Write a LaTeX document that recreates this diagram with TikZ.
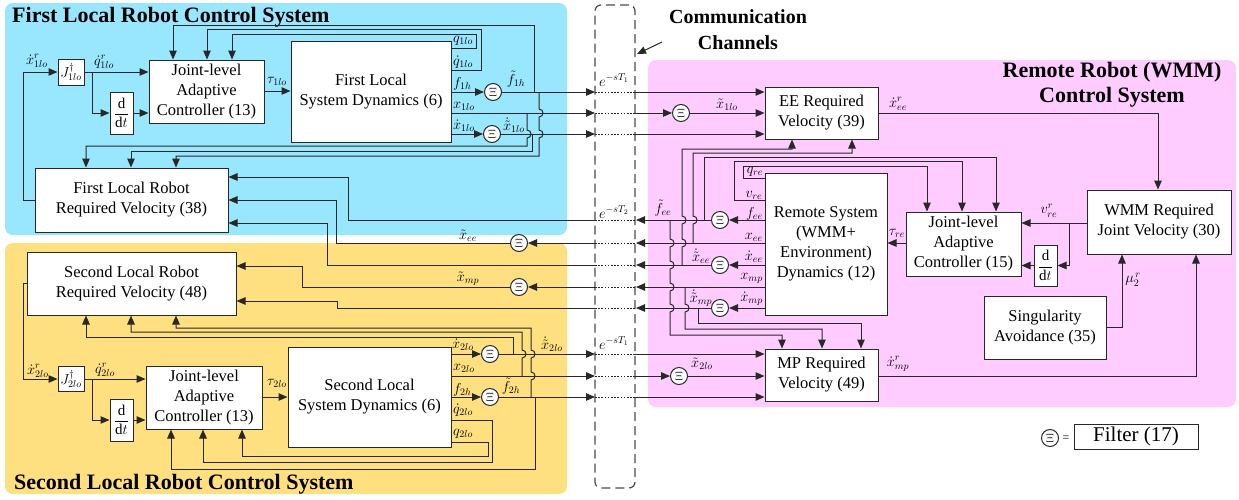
\documentclass[tikz,border=0pt]{standalone}
\usepackage{fontspec}
\setmainfont{Liberation Serif}
\usetikzlibrary{arrows.meta}
\definecolor{bgblue}{RGB}{153,230,255}
\definecolor{bgyel}{RGB}{255,224,128}
\definecolor{bgpink}{RGB}{255,204,255}
\definecolor{ink}{RGB}{40,40,40}
\newcommand{\hopd}[2]{-- (#1,#2-4) .. controls (#1+5.3,#2-4) and (#1+5.3,#2+4) .. (#1,#2+4)}
\newcommand{\hopu}[2]{-- (#1,#2+4) .. controls (#1+5.3,#2+4) and (#1+5.3,#2-4) .. (#1,#2-4)}
\begin{document}
\begin{tikzpicture}[x=1pt,y=-1pt,
 blk/.style={draw=ink, fill=white, line width=1pt, inner sep=1pt, align=center, font=\fontsize{16.5}{20}\selectfont},
 filt/.style={circle, draw=ink, fill=white, line width=1pt, minimum size=17pt, inner sep=0pt, font=\fontsize{12}{12}\selectfont},
 ln/.style={draw=ink, line width=1pt},
 arr/.style={-{Triangle[length=9pt,width=7.5pt]}},
 dots/.style={draw=ink, line width=1pt, dash pattern=on 1.6pt off 1.6pt},
 lab/.style={inner sep=0pt, font=\fontsize{14}{14}\selectfont},
 ttl/.style={inner sep=0pt, font=\fontsize{22}{25}\bfseries\selectfont},
]
\useasboundingbox (0,0) rectangle (1239,499);
% backgrounds
\fill[bgblue, rounded corners=8pt] (5,3) rectangle (567,235);
\fill[bgyel, rounded corners=8pt] (5,243) rectangle (567,494);
\fill[bgpink, rounded corners=8pt] (648,60) rectangle (1236,407);
% titles
\node[ttl, anchor=west] (t1) at (12,17) {First Local Robot Control System};
\node[ttl, anchor=west] (t2) at (14,484) {Second Local Robot Control System};
\node[ttl, align=center] (t3) at (1112,84.5) {Remote Robot (WMM)\\Control System};
\node[ttl, align=center, font=\fontsize{20}{26}\bfseries\selectfont] (comm) at (738,30) {Communication\\Channels};
% channel
\node[draw=black!70, line width=1.2pt, dash pattern=on 9pt off 5pt, rounded corners=6pt, minimum width=40pt, minimum height=483pt, inner sep=0pt] (chan) at (615,246.5) {};
\coordinate (ca) at (662,42);
\draw[ln,arr] (ca) -- (637,54);
% blocks first system
\node[blk, minimum width=26pt, minimum height=26pt, font=\fontsize{14}{14}\selectfont, inner sep=0pt] (j1) at (71,72) {$J^{\dagger}_{1lo}$};
\node[blk, minimum width=115pt, minimum height=63pt] (ctrl1) at (206.5,91.5) {Joint-level\\Adaptive\\Controller (13)};
\node[blk, minimum width=23pt, minimum height=42pt, font=\fontsize{15}{15}\selectfont, inner sep=0pt] (dd1) at (121.5,113) {$\displaystyle\frac{\mathrm{d}}{\mathrm{d}t}$};
\node[blk, minimum width=160pt, minimum height=101pt] (dyn1) at (371,91.5) {First Local\\System Dynamics (6)};
\node[blk, minimum width=193pt, minimum height=64pt] (rv1) at (131.5,200) {First Local Robot\\Required Velocity (38)};
% blocks second system
\node[blk, minimum width=26pt, minimum height=25pt, font=\fontsize{14}{14}\selectfont, inner sep=0pt] (j2) at (71,379) {$J^{\dagger}_{2lo}$};
\node[blk, minimum width=116pt, minimum height=63pt] (ctrl2) at (204,397.5) {Joint-level\\Adaptive\\Controller (13)};
\node[blk, minimum width=23pt, minimum height=42pt, font=\fontsize{15}{15}\selectfont, inner sep=0pt] (dd2) at (121.5,420) {$\displaystyle\frac{\mathrm{d}}{\mathrm{d}t}$};
\node[blk, minimum width=163pt, minimum height=100pt] (dyn2) at (369.5,397) {Second Local\\System Dynamics (6)};
\node[blk, minimum width=209pt, minimum height=63pt] (rv2) at (131.5,283.5) {Second Local Robot\\Required Velocity (48)};
% remote blocks
\node[blk, minimum width=113pt, minimum height=52pt] (ee) at (821.5,113) {EE Required\\Velocity (39)};
\node[blk, minimum width=122pt, minimum height=142pt] (rem) at (826,244) {Remote System\\(WMM+\\Environment)\\Dynamics (12)};
\node[blk, minimum width=115pt, minimum height=64pt] (ctrl3) at (963.5,244) {Joint-level\\Adaptive\\Controller (15)};
\node[blk, minimum width=23pt, minimum height=41pt, font=\fontsize{15}{15}\selectfont, inner sep=0pt] (dd3) at (1045.5,265.5) {$\displaystyle\frac{\mathrm{d}}{\mathrm{d}t}$};
\node[blk, minimum width=144pt, minimum height=64pt] (wmm) at (1159,222) {WMM Required\\Joint Velocity (30)};
\node[blk, minimum width=122pt, minimum height=63pt] (sing) at (1045,327.5) {Singularity\\Avoidance (35)};
\node[blk, minimum width=113pt, minimum height=52pt] (mp) at (821.5,375) {MP Required\\Velocity (49)};
% filters
\node[filt] (fa) at (493,92) {$\Xi$};
\node[filt] (fb) at (492,134) {$\Xi$};
\node[filt] (fc) at (681,113) {$\Xi$};
\node[filt] (fd) at (720,220) {$\Xi$};
\node[filt] (fe) at (720,265) {$\Xi$};
\node[filt] (ff) at (720,308) {$\Xi$};
\node[filt] (fg) at (519,243) {$\Xi$};
\node[filt] (fh) at (519,287) {$\Xi$};
\node[filt] (fi) at (490,354) {$\Xi$};
\node[filt] (fj) at (490,397) {$\Xi$};
\node[filt] (fk) at (679,376) {$\Xi$};
% legend
\node[filt] (fl) at (1050,438) {$\Xi$};
\node[lab, font=\fontsize{12}{12}\selectfont] (eq) at (1066,439) {=};
\node[blk, minimum width=124pt, minimum height=25pt, font=\fontsize{21}{21}\selectfont, inner sep=0pt] (leg) at (1136,436.5) {Filter (17)};

% ---- first local system connectors
\draw[ln,arr] (rv1.west) -| (23,72) -- (j1.west);
\draw[ln,arr] (j1.east) -- (ctrl1.west |- j1.east);
\draw[ln,arr] (92,72) |- (dd1.west);
\draw[ln,arr] (dd1.east) -- (ctrl1.west |- dd1.east);
\draw[ln,arr] (ctrl1.east |- 0,91) -- (dyn1.west |- 0,91);
\draw[ln,arr] (dyn1.east |- 0,48) -| (476,34) -- (232,34) -- (ctrl1.north -| 232,0);
\draw[ln,arr] (dyn1.east |- 0,70) -| (481,29) -- (207,29) -- (ctrl1.north -| 207,0);
\draw[ln,arr] (dyn1.east |- 0,92) -- (fa);
\draw[ln,arr] (fa) -- (595,92);
\draw[dots] (595,92) -- (635,92);
\draw[ln,arr] (635,92) -- (ee.west |- 0,92);
\draw[ln,arr] (534,92) -- (534,25) -- (173,25) -- (ctrl1.north -| 173,0);
\draw[ln,arr] (539,92) \hopd{539}{113} \hopd{539}{134} -- (539,156) -- (176,156) -- (rv1.north -| 176,0);
\draw[ln,arr] (dyn1.east |- 0,113) -- (595,113);
\draw[dots] (595,113) -- (635,113);
\draw[ln,arr] (635,113) -- (fc);
\draw[ln,arr] (fc) -- (ee.west |- 0,113);
\draw[ln,arr] (527,113) \hopd{527}{134} -- (527,146) -- (86,146) -- (rv1.north -| 86,0);
\draw[ln,arr] (dyn1.east |- 0,134) -- (fb);
\draw[ln,arr] (fb) -- (595,134);
\draw[dots] (595,134) -- (635,134);
\draw[ln,arr] (635,134) -- (ee.west |- 0,134);
\draw[ln,arr] (532,134) -- (532,151) -- (131,151) -- (rv1.north -| 131,0);

% ---- remote outgoing
\draw[ln,arr] (rem.west |- 0,220) -- (fd);
\draw[ln,arr] (fd) -- (636,220);
\draw[dots] (635,220) -- (595,220);
\draw[ln,arr] (595,220) -- (348,220) -- (348,177) -- (rv1.east |- 0,177);
\draw[ln,arr] (704,220) -- (704,157) -- (996,157) -- (ctrl3.north -| 996,0);
\draw[ln,arr] (670,220) \hopd{670}{243} \hopd{670}{265} \hopd{670}{287} \hopd{670}{308} -- (670,335) -- (782,335) -- (mp.north -| 782,0);

\draw[ln,arr] (rem.west |- 0,243) -- (636,243);
\draw[dots] (635,243) -- (595,243);
\draw[ln,arr] (595,243) -- (fg);
\draw[ln,arr] (fg) -- (336,243) -- (336,200) -- (rv1.east |- 0,200);
\draw[ln,arr] (693,243) \hopu{693}{220} -- (693,153) -- (852,153) -- (ee.south -| 852,0);

\draw[ln,arr] (rem.west |- 0,265) -- (fe);
\draw[ln,arr] (fe) -- (636,265);
\draw[dots] (635,265) -- (595,265);
\draw[ln,arr] (595,265) -- (327,265) -- (327,223) -- (rv1.east |- 0,223);
\draw[ln,arr] (682,265) \hopu{682}{243} \hopu{682}{220} -- (682,149) -- (792,149) -- (ee.south -| 792,0);

\draw[ln,arr] (rem.west |- 0,287) -- (636,287);
\draw[dots] (635,287) -- (595,287);
\draw[ln,arr] (595,287) -- (fh);
\draw[ln,arr] (fh) -- (302,287) -- (302,266) -- (rv2.east |- 0,266);
\draw[ln,arr] (685,287) \hopd{685}{308} -- (685,329) -- (822,329) -- (mp.north -| 822,0);

\draw[ln,arr] (rem.west |- 0,308) -- (ff);
\draw[ln,arr] (ff) -- (636,308);
\draw[dots] (635,308) -- (595,308);
\draw[ln,arr] (595,308) -- (337,308) -- (337,301) -- (rv2.east |- 0,301);
\draw[ln,arr] (698,308) -- (698,323) -- (861,323) -- (mp.north -| 861,0);

% ---- remote internal
\draw[ln,arr] (rem.west |- 0,178) -- (743,178) -- (743,166) -- (927,166) -- (ctrl3.north -| 927,0);
\draw[ln,arr] (rem.west |- 0,200) -- (734,200) -- (734,161) -- (962,161) -- (ctrl3.north -| 962,0);
\draw[ln,arr] (ee.east) -| (wmm.north -| 1158,0);
\draw[ln,arr] (mp.east |- 0,376) -| (wmm.south -| 1196,0);
\draw[ln,arr] (wmm.west |- 0,223) -- (ctrl3.east |- 0,223);
\draw[ln,arr] (1069,223) |- (dd3.east);
\draw[ln,arr] (dd3.west) -- (ctrl3.east |- dd3.west);
\draw[ln,arr] (sing.east) -| (wmm.south -| 1122,0);
\draw[ln,arr] (ctrl3.west |- 0,243) -- (rem.east |- 0,243);

% ---- second local system
\draw[ln,arr] (rv2.west) -| (23,379) -- (j2.west);
\draw[ln,arr] (j2.east) -- (ctrl2.west |- j2.east);
\draw[ln,arr] (92,379) |- (dd2.west);
\draw[ln,arr] (dd2.east) -- (ctrl2.west |- dd2.east);
\draw[ln,arr] (ctrl2.east |- 0,397) -- (dyn2.west |- 0,397);
\draw[ln,arr] (dyn2.east |- 0,354) -- (fi);
\draw[ln,arr] (fi) -- (595,354);
\draw[dots] (595,354) -- (635,354);
\draw[ln,arr] (635,354) -- (mp.west |- 0,354);
\draw[ln,arr] (513,354) -- (513,337) -- (86,337) -- (rv2.south -| 86,0);
\draw[ln,arr] (dyn2.east |- 0,376) -- (595,376);
\draw[dots] (595,376) -- (635,376);
\draw[ln,arr] (635,376) -- (fk);
\draw[ln,arr] (fk) -- (mp.west |- 0,376);
\draw[ln,arr] (522,376) \hopu{522}{354} -- (522,332) -- (131,332) -- (rv2.south -| 131,0);
\draw[ln,arr] (dyn2.east |- 0,397) -- (fj);
\draw[ln,arr] (fj) -- (595,397);
\draw[dots] (595,397) -- (635,397);
\draw[ln,arr] (635,397) -- (mp.west |- 0,397);
\draw[ln,arr] (531,397) \hopu{531}{376} \hopu{531}{354} -- (531,328) -- (176,328) -- (rv2.south -| 176,0);
\draw[ln,arr] (535,397) -- (535,469) -- (171,469) -- (ctrl2.south -| 171,0);
\draw[ln,arr] (dyn2.east |- 0,420) -| (492,462) -- (203,462) -- (ctrl2.south -| 203,0);
\draw[ln,arr] (dyn2.east |- 0,442) -| (488,456) -- (242,456) -- (ctrl2.south -| 242,0);

% ---- labels
\node[lab] (a1) at (37,61) {$\dot{x}^{r}_{1lo}$};
\node[lab] (a2) at (104,62) {$\dot{q}^{r}_{1lo}$};
\node[lab] (a3) at (277,81) {$\tau_{1lo}$};
\node[lab, anchor=west] (a4) at (453,41) {$q_{1lo}$};
\node[lab, anchor=west] (a5) at (453,62) {$\dot q_{1lo}$};
\node[lab, anchor=west] (a6) at (453,84) {$f_{1h}$};
\node[lab, anchor=west] (a7) at (453,106) {$x_{1lo}$};
\node[lab, anchor=west] (a8) at (453,126) {$\dot x_{1lo}$};
\node[lab] (a9) at (516,79) {$\tilde f_{1h}$};
\node[lab] (a10) at (514,125) {$\dot{\tilde x}_{1lo}$};
\node[lab] (e1) at (614,80) {$e^{-sT_1}$};
\node[lab] (e2) at (614,212) {$e^{-sT_2}$};
\node[lab] (e3) at (614,343) {$e^{-sT_1}$};
\node[lab] (b1) at (468,236) {$\tilde x_{ee}$};
\node[lab] (b2) at (468,279) {$\tilde x_{mp}$};
\node[lab] (b3) at (38,371) {$\dot{x}^{r}_{2lo}$};
\node[lab] (b4) at (105,370) {$\dot{q}^{r}_{2lo}$};
\node[lab] (b5) at (277,383) {$\tau_{2lo}$};
\node[lab, anchor=west] (b6) at (452,345) {$\dot x_{2lo}$};
\node[lab, anchor=west] (b7) at (453,368) {$x_{2lo}$};
\node[lab, anchor=west] (b8) at (453,390) {$f_{2h}$};
\node[lab, anchor=west] (b9) at (453,410) {$\dot q_{2lo}$};
\node[lab, anchor=west] (b10) at (453,434) {$q_{2lo}$};
\node[lab] (b11) at (552,344) {$\dot{\tilde x}_{2lo}$};
\node[lab] (b12) at (511,386) {$\tilde f_{2h}$};
\node[lab] (c1) at (727,105) {$\tilde x_{1lo}$};
\node[lab] (c2) at (702,364) {$\tilde x_{2lo}$};
\node[lab] (c3) at (898,104) {$\dot x^{r}_{ee}$};
\node[lab] (c4) at (898,364) {$\dot x^{r}_{mp}$};
\node[lab] (c5) at (897,233) {$\tau_{re}$};
\node[lab] (c6) at (1049,211) {$v^{r}_{re}$};
\node[lab] (c7) at (1133,280) {$\mu_2^{\,r}$};
\node[lab] (c8) at (663,208) {$\tilde f_{ee}$};
\node[lab, anchor=east] (c9) at (763,214) {$f_{ee}$};
\node[lab, anchor=east] (c10) at (763,237) {$x_{ee}$};
\node[lab, anchor=east] (c11) at (763,257) {$\dot x_{ee}$};
\node[lab, anchor=east] (c12) at (763,278) {$x_{mp}$};
\node[lab, anchor=east] (c13) at (763,299) {$\dot x_{mp}$};
\node[lab] (c14) at (701,256) {$\dot{\tilde x}_{ee}$};
\node[lab] (c15) at (701,298) {$\dot{\tilde x}_{mp}$};
\node[lab] (c16) at (755,172) {$q_{re}$};
\node[lab] (c17) at (754,195) {$v_{re}$};
\end{tikzpicture}
\end{document}
